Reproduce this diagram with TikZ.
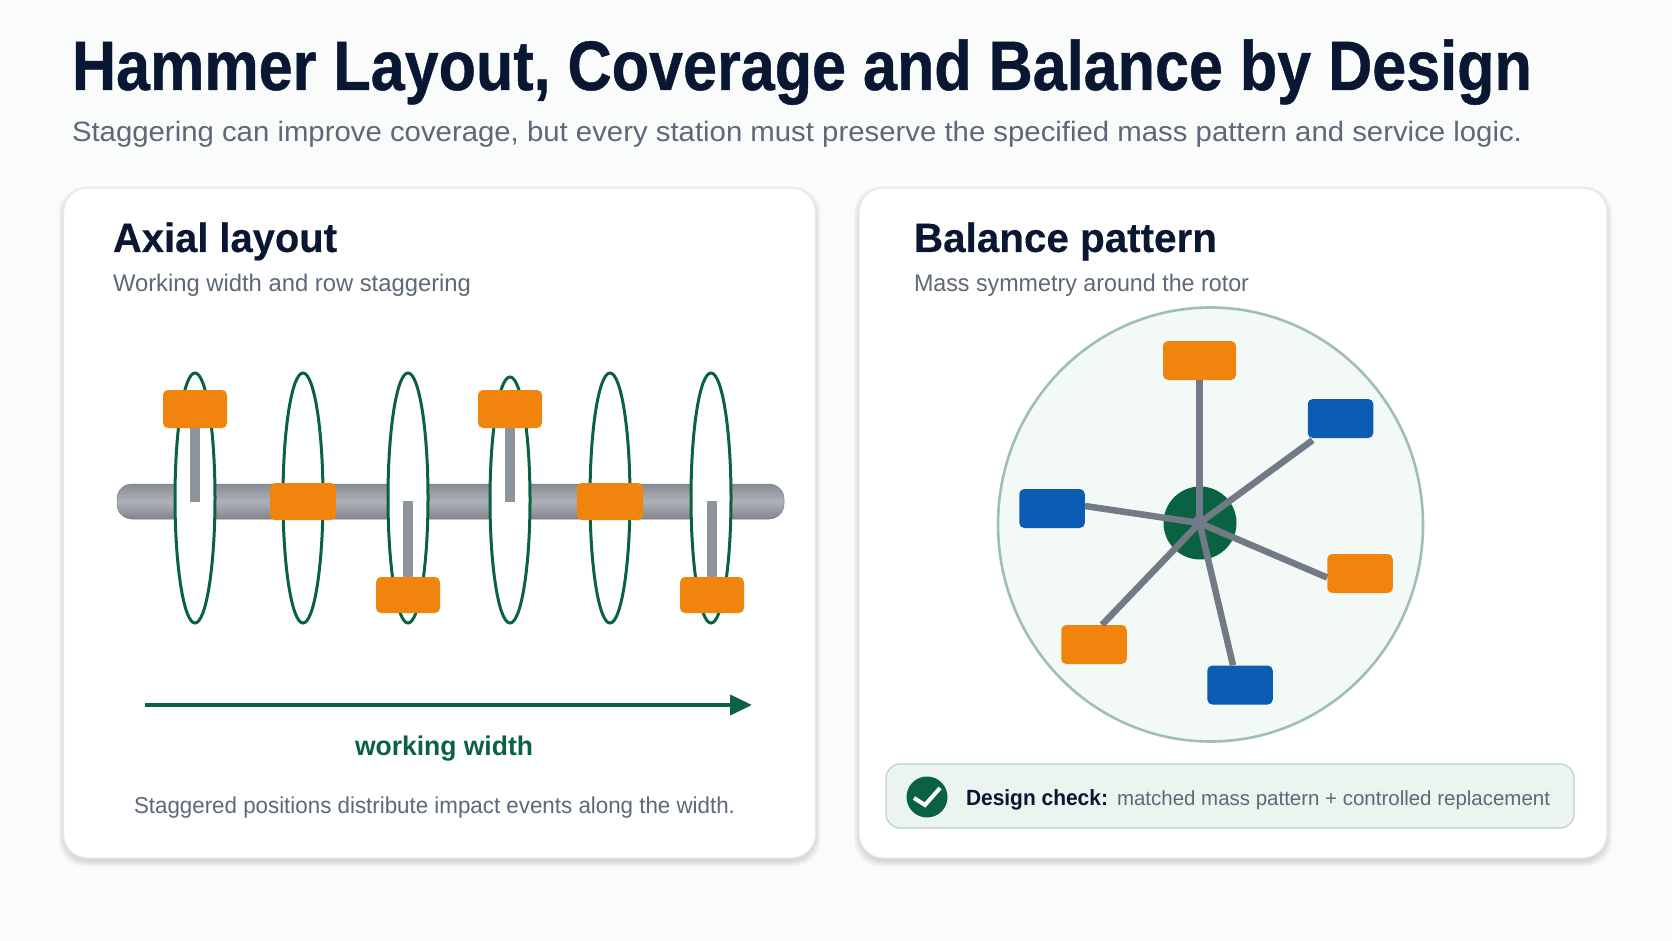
\documentclass[tikz,border=0pt]{standalone}
\usepackage{graphicx}
\usepackage{fontspec}
\setmainfont{Liberation Sans}
\newfontfamily\heavyfont[FakeBold=0.7]{Liberation Sans Bold}
\newfontfamily\semifont[FakeBold=0.3]{Liberation Sans Bold}
\usetikzlibrary{shapes.geometric,arrows.meta,calc}
\definecolor{pagebg}{HTML}{FAFBFB}
\definecolor{navy}{HTML}{0A1733}
\definecolor{slate}{HTML}{5D6878}
\definecolor{hamorange}{HTML}{F0840C}
\definecolor{hamblue}{HTML}{0B5CB2}
\definecolor{forest}{HTML}{0B6243}
\definecolor{spoke}{HTML}{737A87}
\definecolor{armgray}{HTML}{8F939C}
\definecolor{discfill}{HTML}{F3F9F6}
\definecolor{discline}{HTML}{9FC0AC}
\definecolor{badgefill}{HTML}{EBF4EF}
\definecolor{badgeline}{HTML}{B9D3C4}
\definecolor{cardline}{HTML}{E6E9EC}
\newcommand{\fitw}[2]{\resizebox{#1pt}{\height}{#2}}
\newcommand{\fsz}[1]{\fontsize{#1}{#1}\selectfont}
\tikzset{
  txt/.style={anchor=base west,inner sep=0pt,outer sep=0pt},
  cardbox/.style={draw=cardline,line width=1.2pt,fill=white,rounded corners=24pt,inner sep=0pt,minimum width=#1,minimum height=670},
  shadowbox/.style={fill=black,opacity=0.022,rounded corners=26pt,inner sep=0pt},
  disk/.style={ellipse,draw=forest,line width=3pt,fill=white,inner sep=0pt,minimum width=40,minimum height=250},
  ham/.style={rectangle,rounded corners=5pt,inner sep=0pt,minimum width=64,minimum height=38,fill=hamorange},
  hamb/.style={ham,fill=hamblue,minimum width=65.5,minimum height=39},
  hamo/.style={ham,minimum width=65.5,minimum height=39},
  arm/.style={draw=armgray,line width=9.5pt},
  spokeline/.style={draw=spoke,line width=6.5pt}
}
\begin{document}
\begin{tikzpicture}[x=1pt,y=-1pt]
\useasboundingbox (0,0) rectangle (1672,941);
\fill[pagebg] (0,0) rectangle (1672,941);
% title
\node[txt,text=navy] (title) at (72,90) {\fsz{70}\fitw{1460}{\heavyfont Hammer Layout, Coverage and Balance by Design}};
\node[txt,text=slate] (subtitle) at (72,142) {\fsz{28}\fitw{1450}{Staggering can improve coverage, but every station must preserve the specified mass pattern and service logic.}};
% card shadows
\foreach \k in {0,1,2,3,4,5}{
  \node[shadowbox,minimum width=752+2*\k,minimum height=670+2*\k] (sl\k) at (439.5,526.5) {};
  \node[shadowbox,minimum width=748+2*\k,minimum height=670+2*\k] (sr\k) at (1233,526.5) {};
}
% cards
\node[cardbox=752] (cardL) at (439.5,523) {};
\node[cardbox=748] (cardR) at (1233,523) {};
% left header
\node[txt,text=navy] (axh) at (113,252) {\fsz{41}\fitw{224}{\semifont Axial layout}};
\node[txt,text=slate] (axs) at (113,291) {\fsz{24}\fitw{358}{Working width and row staggering}};
% shaft
\node[rectangle,rounded corners=15pt,inner sep=0pt,minimum width=667,minimum height=35,top color=armgray!95!black,bottom color=armgray!90!black,middle color=armgray!72!white,draw=armgray!85!black,line width=.5pt] (shaft) at (450.5,501.5) {};
% disks
\node[disk] (d1) at (195,498) {};
\node[disk] (d2) at (303,498) {};
\node[disk] (d3) at (408,498) {};
\node[disk,minimum height=246] (d4) at (510,500) {};
\node[disk] (d5) at (610,498) {};
\node[disk] (d6) at (711,498) {};
% hammers
\node[ham] (h1) at (195,409) {};
\node[ham,minimum width=66,minimum height=37] (h2) at (303,501.5) {};
\node[ham,minimum height=36] (h3) at (408,595) {};
\node[ham] (h4) at (510,409) {};
\node[ham,minimum width=66,minimum height=37] (h5) at (610,501.5) {};
\node[ham,minimum height=36] (h6) at (712,595) {};
% arms
\draw[arm] (h1.south) -- ++(0,74);
\draw[arm] (h4.south) -- ++(0,74);
\draw[arm] (h3.north) -- ++(0,-76);
\draw[arm] (h6.north) -- ++(0,-76);
% arrow
\coordinate (wstart) at (145,705);
\coordinate (wend) at (752,705);
\draw[forest,line width=4pt,-{Triangle[length=22pt,width=20pt]}] (wstart) -- (wend);
\node[txt,text=forest] (wlabel) at (355,755) {\fsz{27}\fitw{178}{\bfseries working width}};
\node[txt,text=slate] (capL) at (134,813) {\fsz{23}\fitw{601}{Staggered positions distribute impact events along the width.}};
% right header
\node[txt,text=navy] (bh) at (914,252) {\fsz{41}\fitw{303}{\semifont Balance pattern}};
\node[txt,text=slate] (bs) at (914,291) {\fsz{24}\fitw{335}{Mass symmetry around the rotor}};
% balance disc
\node[ellipse,draw=discline,line width=2.6pt,fill=discfill,inner sep=0pt,minimum width=425,minimum height=434] (disc) at (1210.5,524.5) {};
\node[circle,fill=forest,inner sep=0pt,minimum size=73] (hub) at (1200,523) {};
\node[circle,fill=spoke,inner sep=0pt,minimum size=15] (pin) at (1199.5,523) {};
\node[hamo,minimum width=73] (bt) at (1199.5,360.5) {};
\node[hamb] (bur) at (1340.5,418.5) {};
\node[hamo] (br) at (1360,573.5) {};
\node[hamb] (bb) at (1240,685) {};
\node[hamo] (bll) at (1094,644.5) {};
\node[hamb] (bl) at (1052,508.5) {};
\draw[spokeline] (pin.center) -- (bt.south);
\draw[spokeline] (pin.center) -- ([xshift=5pt,yshift=-2pt]bur.south west);
\draw[spokeline] (pin.center) -- ([yshift=-4pt]br.west);
\draw[spokeline] (pin.center) -- ([xshift=-7pt]bb.north);
\draw[spokeline] (pin.center) -- ([xshift=8pt]bll.north);
\draw[spokeline] (pin.center) -- ([yshift=2.5pt]bl.east);
% badge
\node[rectangle,draw=badgeline,line width=1.2pt,fill=badgefill,rounded corners=14pt,inner sep=0pt,minimum width=688,minimum height=64] (badge) at (1230,796) {};
\node[circle,fill=forest,inner sep=0pt,minimum size=41] (tick) at (927,797) {};
\draw[white,line width=4pt,line join=miter] ([shift={(-13,1)}]tick.center) -- ([shift={(-2,8)}]tick.center) -- ([shift={(13,-9)}]tick.center);
\node[txt,text=navy] (dc) at (966,805) {\fsz{22}\fitw{142}{\bfseries Design check:}};
\node[txt,text=slate] (dt) at (1117,805) {\fsz{20.5}\fitw{433}{matched mass pattern + controlled replacement}};
\end{tikzpicture}
\end{document}
